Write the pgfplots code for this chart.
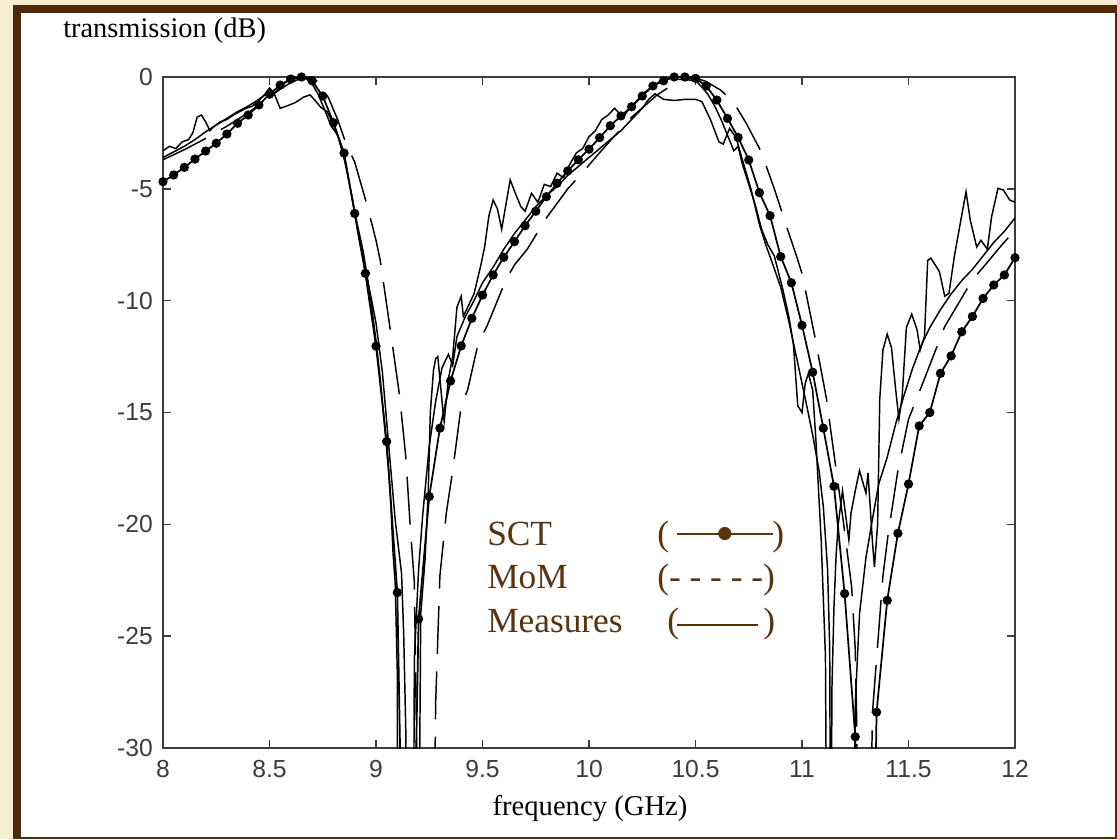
\documentclass[border=0pt]{standalone}
\usepackage{pgfplots}
\pgfplotsset{compat=1.18}
\usepackage{fontspec}
\setmainfont{Liberation Serif}
\newfontfamily\ticksf{Liberation Sans}
\newfontfamily\dejavu{DejaVu Sans}
\definecolor{beige}{HTML}{F8EED3}
\definecolor{framebrown}{HTML}{4E2A06}
\definecolor{lbrown}{HTML}{5A3410}
\definecolor{axgray}{HTML}{3C3C3C}
\begin{document}
\begin{tikzpicture}
\begin{scope}[x=0.75bp,y=-0.75bp,yshift=629.25bp]
 \fill[beige] (0,0) rectangle (1117,839);
 \fill[framebrown] (13,5) rectangle (1117,839);
 \fill[white] (21,13) rectangle (1115,837);
\end{scope}
\begin{axis}[at={(122.25bp,68.25bp)}, anchor=south west, scale only axis,
  width=639bp, height=503.25bp,
  xmin=8, xmax=12, ymin=-30, ymax=0,
  xtick={8,8.5,9,9.5,10,10.5,11,11.5,12},
  xticklabels={8,8.5,9,9.5,10,10.5,11,11.5,12},
  ytick={-30,-25,-20,-15,-10,-5,0},
  yticklabels={-30,-25,-20,-15,-10,-5,0},
  tick align=inside, major tick length=6bp,
  xtick pos=both, ytick pos=both,
  tick style={axgray, line width=1.2bp},
  axis line style={axgray, line width=1.5bp},
  ticklabel style={font=\fontsize{18.5bp}{20bp}\ticksf, text=axgray},
  xticklabel style={inner sep=0pt, anchor=north, yshift=-9bp},
  yticklabel style={inner sep=0pt, anchor=east, xshift=-7.5bp},
]
% SCT
\addplot[black, line width=1.3bp, mark=*, mark size=2.8bp] coordinates {
(8.00,-4.68) (8.05,-4.38) (8.10,-4.04) (8.15,-3.67) (8.20,-3.31) (8.25,-2.96)
(8.30,-2.55) (8.35,-2.07) (8.40,-1.70) (8.45,-1.25) (8.50,-0.77) (8.55,-0.36)
(8.60,-0.09) (8.65,0.00) (8.70,-0.17) (8.75,-0.85) (8.80,-2.04) (8.85,-3.40)
(8.90,-6.10) (8.95,-8.78) (9.00,-12.03) (9.05,-16.30) (9.10,-23.05) (9.15,-50)
(9.20,-24.23) (9.25,-18.76) (9.30,-15.70) (9.35,-13.59) (9.40,-12.02) (9.45,-10.79)
(9.50,-9.75) (9.55,-8.85) (9.60,-8.06) (9.65,-7.36) (9.70,-6.65) (9.75,-6.00)
(9.80,-5.35) (9.85,-4.75) (9.90,-4.20) (9.95,-3.70) (10.00,-3.23) (10.05,-2.71)
(10.10,-2.18) (10.15,-1.74) (10.20,-1.33) (10.25,-0.85) (10.30,-0.40) (10.35,-0.17)
(10.40,0.00) (10.45,0.00) (10.50,-0.06) (10.55,-0.40) (10.60,-1.03) (10.65,-1.85)
(10.70,-2.70) (10.75,-3.71) (10.80,-5.17) (10.85,-6.20) (10.90,-8.03) (10.95,-9.20)
(11.00,-11.10) (11.05,-13.20) (11.10,-15.70) (11.15,-18.30) (11.20,-23.10) (11.25,-29.50)
(11.30,-60) (11.35,-28.40) (11.40,-23.40) (11.45,-20.40) (11.50,-18.20) (11.55,-15.60)
(11.60,-15.00) (11.65,-13.25) (11.70,-12.47) (11.75,-11.39) (11.80,-10.71) (11.85,-9.90)
(11.90,-9.30) (11.95,-8.85) (12.00,-8.08)
};
% MoM
\addplot[black, line width=1.1bp, dash pattern=on 36bp off 13bp] coordinates {
(8.00,-3.70) (8.10,-3.25) (8.20,-2.75) (8.30,-2.20) (8.40,-1.60) (8.50,-0.90)
(8.55,-0.55) (8.60,-0.25) (8.65,-0.05) (8.70,0.00) (8.75,-0.40) (8.78,-1.00)
(8.82,-1.90) (8.86,-3.00) (8.90,-3.80) (8.96,-5.80) (9.00,-7.30) (9.02,-8.20)
(9.07,-11.50) (9.11,-14.20) (9.14,-17.00) (9.16,-20.00) (9.18,-22.60) (9.19,-29.30)
(9.22,-45) (9.26,-45) (9.28,-28.0) (9.30,-22.30) (9.33,-19.50) (9.36,-17.60)
(9.40,-14.70) (9.43,-14.00) (9.48,-11.90) (9.52,-11.16) (9.61,-9.07) (9.65,-8.40)
(9.71,-7.70) (9.80,-6.30) (9.90,-5.00) (9.96,-4.38) (10.04,-3.49) (10.11,-2.74)
(10.20,-1.80) (10.32,-0.80) (10.40,-0.30) (10.45,-0.10) (10.50,-0.05) (10.55,-0.20)
(10.62,-0.60) (10.68,-1.15) (10.74,-2.10) (10.80,-3.19) (10.83,-3.93) (10.87,-5.00)
(10.905,-6.02) (10.93,-6.76) (10.975,-8.03) (11.00,-8.78) (11.06,-11.60) (11.115,-14.40)
(11.155,-17.20) (11.195,-19.95) (11.233,-22.80) (11.25,-25.60) (11.256,-28.40) (11.27,-45)
(11.31,-45) (11.33,-28.5) (11.38,-22.30) (11.405,-20.40) (11.45,-17.60) (11.50,-15.30)
(11.554,-14.00) (11.64,-11.90) (11.67,-11.16) (11.80,-9.07) (11.86,-8.40) (11.93,-7.60)
(12.00,-6.84)
};
% Measures 1 (noisy)
\addplot[black, line width=1.1bp] coordinates {
(8.00,-3.3) (8.03,-3.1) (8.06,-3.2) (8.09,-2.9) (8.12,-2.8) (8.14,-2.5) (8.16,-1.8)
(8.18,-1.7) (8.20,-2.0) (8.22,-2.4) (8.24,-2.2) (8.27,-2.0) (8.30,-1.9) (8.33,-1.7)
(8.36,-1.55) (8.39,-1.4) (8.42,-1.3) (8.45,-1.05) (8.48,-0.75) (8.50,-0.5) (8.52,-0.75)
(8.55,-0.45) (8.58,-0.2) (8.61,-0.05) (8.64,0) (8.67,-0.05) (8.70,-0.3) (8.73,-0.8)
(8.76,-1.5) (8.79,-2.2) (8.82,-2.6) (8.85,-3.6) (8.88,-5.0) (8.91,-6.5) (8.94,-7.8)
(8.96,-9.0) (8.98,-10.3) (9.00,-11.8) (9.02,-13.5) (9.04,-15.6) (9.06,-17.7) (9.07,-19.2)
(9.08,-21.3) (9.09,-22.6) (9.10,-26.6) (9.105,-50) (9.19,-50) (9.21,-24) (9.23,-21.6)
(9.245,-18.6) (9.255,-15.0) (9.27,-13.1) (9.28,-12.6) (9.29,-12.5) (9.30,-13.5) (9.315,-15.0)
(9.32,-15.4) (9.34,-13.5) (9.36,-12.5) (9.38,-10.3) (9.40,-9.8) (9.41,-10.7) (9.44,-10.1)
(9.46,-9.7) (9.49,-8.5) (9.51,-7.6) (9.53,-6.2) (9.55,-5.5) (9.57,-5.9) (9.59,-6.8)
(9.61,-5.7) (9.63,-4.6) (9.65,-5.1) (9.68,-5.8) (9.70,-6.0) (9.73,-5.2) (9.76,-5.6)
(9.79,-4.8) (9.82,-4.9) (9.85,-4.3) (9.88,-4.5) (9.91,-3.9) (9.94,-3.4) (9.97,-3.2)
(10.00,-2.67) (10.03,-2.4) (10.06,-1.9) (10.09,-1.7) (10.12,-1.4) (10.14,-1.6) (10.16,-1.8)
(10.19,-1.4) (10.22,-1.1) (10.26,-0.7) (10.30,-0.4) (10.34,-0.15) (10.38,-0.05) (10.42,-0.1)
(10.46,-0.13) (10.50,-0.15) (10.53,-0.45) (10.56,-0.8) (10.59,-1.3) (10.62,-1.9) (10.65,-2.6)
(10.68,-3.3) (10.70,-3.1) (10.72,-3.9) (10.75,-4.8) (10.78,-5.7) (10.81,-6.8) (10.84,-7.5)
(10.87,-8.0) (10.91,-9.5) (10.94,-10.8) (10.96,-12.0) (10.98,-14.7) (11.00,-15.0) (11.015,-13.7)
(11.03,-13.25) (11.05,-14.0) (11.065,-16.2) (11.08,-18.9) (11.09,-20.7) (11.11,-25.9) (11.125,-50)
(11.135,-50) (11.14,-27.5) (11.15,-23.7) (11.16,-21.4) (11.17,-20.0) (11.19,-18.5) (11.22,-20.7)
(11.23,-19.5) (11.25,-18.5) (11.27,-17.6) (11.30,-18.6) (11.31,-17.7) (11.33,-20.7) (11.34,-21.9)
(11.355,-20.0) (11.365,-14.4) (11.38,-12.2) (11.40,-11.5) (11.42,-12.1) (11.44,-14.0) (11.455,-15.3)
(11.47,-14.3) (11.49,-11.2) (11.515,-10.6) (11.54,-11.3) (11.555,-12.2) (11.575,-11.6) (11.59,-8.2)
(11.605,-8.1) (11.645,-8.7) (11.67,-9.8) (11.69,-9.67) (11.715,-8.03) (11.74,-6.7) (11.77,-5.13)
(11.79,-6.4) (11.82,-7.6) (11.84,-7.3) (11.87,-7.7) (11.89,-6.25) (11.92,-4.98) (11.945,-5.05)
(11.975,-5.5) (12.00,-5.6)
};
% Measures 2
\addplot[black, line width=1.1bp] coordinates {
(8.00,-3.6) (8.05,-3.35) (8.10,-3.1) (8.15,-2.8) (8.20,-2.45) (8.25,-2.15) (8.30,-1.85)
(8.35,-1.55) (8.40,-1.3) (8.45,-1.0) (8.48,-0.8) (8.50,-0.5) (8.52,-0.7) (8.55,-1.4)
(8.58,-1.3) (8.62,-1.15) (8.66,-0.9) (8.69,-0.8) (8.71,-1.0) (8.74,-1.35) (8.77,-1.55)
(8.80,-2.1) (8.83,-2.9) (8.86,-4.0) (8.89,-5.5) (8.92,-7.2) (8.95,-8.6) (8.98,-10.0)
(9.00,-11.0) (9.03,-13.2) (9.06,-16.5) (9.09,-19.8) (9.12,-22.2) (9.13,-24.9) (9.14,-29.3)
(9.15,-50) (9.17,-50) (9.18,-26) (9.20,-22) (9.22,-19.5) (9.25,-16.5) (9.28,-14.5)
(9.31,-13.0) (9.34,-12.4) (9.36,-12.9) (9.38,-11.6) (9.42,-10.7) (9.46,-10.0) (9.50,-9.2)
(9.55,-8.5) (9.60,-7.7) (9.65,-7.0) (9.70,-6.4) (9.75,-5.8) (9.80,-5.3) (9.85,-4.9)
(9.90,-4.4) (9.95,-4.0) (10.00,-3.6) (10.05,-3.2) (10.10,-2.8) (10.15,-2.4) (10.20,-1.9)
(10.25,-1.4) (10.28,-1.0) (10.31,-0.75) (10.35,-1.0) (10.40,-1.05) (10.45,-1.0) (10.50,-1.0)
(10.53,-1.1) (10.57,-1.9) (10.61,-2.9) (10.63,-3.0) (10.66,-2.3) (10.69,-2.7) (10.72,-3.7)
(10.76,-5.0) (10.80,-6.6) (10.83,-7.5) (10.86,-8.3) (10.90,-9.4) (10.94,-11.0) (10.98,-12.8)
(11.02,-14.6) (11.05,-16.0) (11.08,-17.6) (11.10,-19.2) (11.12,-22.0) (11.13,-25.5) (11.14,-50)
(11.23,-50) (11.25,-28) (11.27,-24) (11.30,-21.5) (11.33,-19.8) (11.36,-18.2) (11.40,-17.0)
(11.44,-15.5) (11.48,-14.2) (11.52,-13.0) (11.56,-12.0) (11.60,-11.2) (11.65,-10.4) (11.70,-9.7)
(11.75,-9.1) (11.80,-8.6) (11.85,-8.0) (11.90,-7.4) (11.95,-6.9) (12.00,-6.3)
};
\end{axis}
\begin{scope}[x=0.75bp,y=-0.75bp,yshift=629.25bp]
 \node[anchor=base west, inner sep=0pt, font=\fontsize{21.3bp}{23bp}\selectfont] at (63,38) {transmission (dB)};
 \node[anchor=base, inner sep=0pt, font=\fontsize{21.5bp}{23bp}\selectfont] at (590,815) {frequency (GHz)};
 \begin{scope}[every node/.style={inner sep=0pt, text=lbrown, font=\fontsize{26.5bp}{28bp}\selectfont}]
  \node[anchor=base west] at (487,545) {SCT};
  \node[anchor=base west] at (487,588) {MoM};
  \node[anchor=base west] at (487,632) {Measures};
  \node[anchor=base west] at (657,545) {(};
  \node[anchor=west] at (677,534) {\rule{72bp}{1.5bp}};
  \node at (725,534) {\fontsize{13bp}{13bp}\dejavu ●};
  \node[anchor=base west] at (772,545) {)};
  \node[anchor=base west] at (657,588) {(- - - - -)};
  \node[anchor=base west] at (667,632) {(};
  \node[anchor=west] at (677,625) {\rule{60.75bp}{1.5bp}};
  \node[anchor=base west] at (763,632) {)};
 \end{scope}
\end{scope}
\end{tikzpicture}
\end{document}
